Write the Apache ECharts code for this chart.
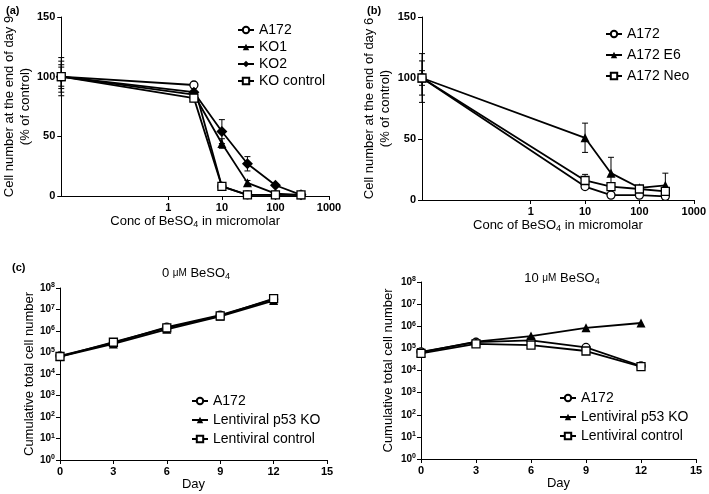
<!DOCTYPE html>
<html><head><meta charset="utf-8">
<script src="https://cdn.jsdelivr.net/npm/echarts@6/dist/echarts.min.js"></script>
<style>html,body{margin:0;padding:0;background:#fff}#c{width:709px;height:494px}</style>
</head><body><div id="c"></div>
<script>
// ---------- DATA ----------
// Panel (a): concentration (µM); untreated control drawn at the axis origin (0.01)
var concA = [0.01, 3, 10, 30, 100, 300];
var aA172 = [100, 93, 8, 1, 1, 1];
var aKO1 = [100, 85, 44, 11, 2, 1];
var aKO2 = [100, 87, 54, 27, 9, 1];
var aKOctrl = [100, 82, 8, 1, 1, 1];
var aA172Err = [16, 2, 1, 1, 0, 0];
var aKO1Err = [13, 3, 4, 2, 1, 0];
var aKO2Err = [10, 3, 10, 6, 1, 0];
var aKOctrlErr = [8, 3, 2, 1, 0, 0];

// Panel (b)
var concB = [0.01, 10, 30, 100, 300];
var bA172 = [100, 11, 4, 4, 3];
var bE6 = [100, 51, 22, 10, 12];
var bNeo = [100, 16, 11, 9, 7];
var bA172Err = [20, 2, 1, 1, 1];
var bE6Err = [14, 12, 13, 2, 10];
var bNeoErr = [6, 5, 3, 2, 3];

// Panel (c)
var days = [0, 3, 6, 9, 12];
var c0A172 = [7e4, 2.8e5, 1.5e6, 5.5e6, 3.0e7];
var c0KO = [6.5e4, 2.5e5, 1.2e6, 4.8e6, 2.6e7];
var c0Ctrl = [6.5e4, 3.0e5, 1.4e6, 5.0e6, 3.2e7];
var c10A172 = [7e4, 1.9e5, 2.3e5, 1.1e5, 1.6e4];
var c10KO = [6.6e4, 2.0e5, 3.6e5, 8.5e5, 1.4e6];
var c10Ctrl = [6.0e4, 1.6e5, 1.4e5, 7.6e4, 1.5e4];

var logTicksX = [1, 10, 100, 1000];

// ---------- HELPERS ----------
function zip(xs, ys) { return xs.map(function (x, i) { return [x, ys[i]]; }); }
function zip3(xs, ys, es) { return xs.map(function (x, i) { return [x, ys[i], es[i]]; }); }

var FONT = 'Liberation Sans, Arial, sans-serif';
var styles = {
  circle: { symbol: 'circle', symbolSize: 8, itemStyle: { color: '#fff', borderColor: '#000', borderWidth: 1.3 } },
  triangle: { symbol: 'triangle', symbolSize: 9, itemStyle: { color: '#000', borderColor: '#000', borderWidth: 0 } },
  diamond: { symbol: 'diamond', symbolSize: 11, itemStyle: { color: '#000', borderColor: '#000', borderWidth: 0 } },
  square: { symbol: 'rect', symbolSize: 8, itemStyle: { color: '#fff', borderColor: '#000', borderWidth: 1.3 } }
};

function lineSeries(name, data, sty, idx) {
  return {
    type: 'line', name: name, data: data, xAxisIndex: idx, yAxisIndex: idx,
    symbol: sty.symbol, symbolSize: sty.symbolSize, itemStyle: sty.itemStyle,
    lineStyle: { color: '#000', width: 1.8 }, showAllSymbol: true, animation: false, z: 3
  };
}

function errRender(params, api) {
  var x = api.value(0), y = api.value(1), e = api.value(2);
  var t = api.coord([x, y + e]);
  var b = api.coord([x, Math.max(0, y - e)]);
  var w = 3;
  var st = { stroke: '#000', lineWidth: 1 };
  return {
    type: 'group', children: [
      { type: 'line', shape: { x1: t[0], y1: t[1], x2: b[0], y2: b[1] }, style: st },
      { type: 'line', shape: { x1: t[0] - w, y1: t[1], x2: t[0] + w, y2: t[1] }, style: st },
      { type: 'line', shape: { x1: b[0] - w, y1: b[1], x2: b[0] + w, y2: b[1] }, style: st }
    ]
  };
}
function errSeries(data, idx) {
  return { type: 'custom', name: 'err', renderItem: errRender, data: data, xAxisIndex: idx, yAxisIndex: idx,
    encode: { x: 0, y: 1 }, animation: false, z: 2, silent: true };
}

var axisLineStyle = { show: true, lineStyle: { color: '#000', width: 1 } };
var tickStyle = { show: true, length: 4, lineStyle: { color: '#000', width: 1 } };
var labelStyle = { color: '#000', fontFamily: FONT, fontSize: 11, fontWeight: 'bold' };
var nameStyle = { color: '#000', fontFamily: FONT, fontSize: 13,
  rich: { sub: { fontSize: 9, fontFamily: FONT, color: '#000', padding: [7, 0, 0, 0] } } };

function logXAxis(idx) {
  return {
    type: 'log', logBase: 10, min: 0.01, max: 1000, gridIndex: idx,
    axisLine: axisLineStyle,
    axisTick: Object.assign({ customValues: logTicksX }, tickStyle),
    axisLabel: Object.assign({ customValues: logTicksX, margin: 6, formatter: function (v) { return v >= 1 ? String(Math.round(v)) : ''; } }, labelStyle),
    splitLine: { show: false }, minorTick: { show: false },
    name: 'Conc of BeSO{sub|4} in micromolar', nameLocation: 'middle', nameGap: 17, nameTextStyle: nameStyle
  };
}
function linYAxis(idx, name, gap) {
  return {
    type: 'value', min: 0, max: 150, interval: 50, gridIndex: idx,
    axisLine: axisLineStyle, axisTick: tickStyle,
    axisLabel: Object.assign({ margin: 6 }, labelStyle), splitLine: { show: false },
    name: name, nameLocation: 'middle', nameGap: gap, nameTextStyle: Object.assign({ lineHeight: 16 }, nameStyle)
  };
}
function dayXAxis(idx) {
  return {
    type: 'value', min: 0, max: 15, interval: 3, gridIndex: idx,
    axisLine: axisLineStyle, axisTick: tickStyle,
    axisLabel: Object.assign({ margin: 6 }, labelStyle), splitLine: { show: false },
    name: 'Day', nameLocation: 'middle', nameGap: 18, nameTextStyle: nameStyle
  };
}
function cellYAxis(idx, gap) {
  return {
    type: 'log', logBase: 10, min: 1, max: 1e8, gridIndex: idx,
    axisLine: axisLineStyle, axisTick: tickStyle,
    axisLabel: { margin: 5, color: '#000', fontFamily: FONT, fontSize: 10, fontWeight: 'bold',
      formatter: function (v) { return '10{sup|' + Math.round(Math.log10(v)) + '}'; },
      rich: { sup: { fontSize: 7, fontWeight: 'bold', fontFamily: FONT, color: '#000', padding: [0, 0, 5, 0] } } },
    splitLine: { show: false }, minorTick: { show: false },
    name: 'Cumulative total cell number', nameLocation: 'middle', nameGap: gap, nameTextStyle: nameStyle
  };
}
function legend(names, left, top, gap) {
  return {
    data: names, orient: 'vertical', left: left, top: top, itemGap: gap, itemWidth: 16, itemHeight: 8,
    selectedMode: false, textStyle: { color: '#000', fontFamily: FONT, fontSize: 14 }, padding: 0
  };
}

var titleBase = { fontFamily: FONT, fontSize: 13, fontWeight: 'normal', color: '#000',
  rich: { sm: { fontSize: 10, fontFamily: FONT, color: '#000' }, sub: { fontSize: 9, fontFamily: FONT, color: '#000', padding: [7, 0, 0, 0] } } };
var panelLabel = { fontFamily: FONT, fontSize: 11, fontWeight: 'bold', color: '#000' };

var option = {
  backgroundColor: '#fff',
  animation: false,
  grid: [
    { left: 60, top: 17, width: 269, height: 179 },
    { left: 422, top: 17, width: 275, height: 183 },
    { left: 60, top: 288, width: 267, height: 172 },
    { left: 421, top: 282, width: 275, height: 177 }
  ],
  xAxis: [logXAxis(0), logXAxis(1), dayXAxis(2), dayXAxis(3)],
  yAxis: [
    linYAxis(0, 'Cell number at the end of day 9\n(% of control)', 26),
    linYAxis(1, 'Cell number at the end of day 6\n(% of control)', 28),
    cellYAxis(2, 23), cellYAxis(3, 26)
  ],
  legend: [
    legend(['A172', 'KO1', 'KO2', 'KO control'], 237, 23, 3),
    legend(['A172', 'A172 E6', 'A172 Neo'], 605, 27, 7),
    legend(['A172', 'Lentiviral p53 KO', 'Lentiviral control'], 191, 394, 5),
    legend(['A172', 'Lentiviral p53 KO', 'Lentiviral control'], 559, 391, 5)
  ],
  title: [
    { text: '(a)', left: 1, top: 0, textStyle: panelLabel },
    { text: '(b)', left: 362, top: 0, textStyle: panelLabel },
    { text: '(c)', left: 7, top: 257, textStyle: panelLabel },
    { text: '0 {sm|μM} BeSO{sub|4}', left: 191, top: 260, textAlign: 'center', textStyle: titleBase },
    { text: '10 {sm|μM} BeSO{sub|4}', left: 557, top: 265, textAlign: 'center', textStyle: titleBase }
  ],
  series: [
    errSeries(zip3(concA, aA172, aA172Err), 0),
    errSeries(zip3(concA, aKO1, aKO1Err), 0),
    errSeries(zip3(concA, aKO2, aKO2Err), 0),
    errSeries(zip3(concA, aKOctrl, aKOctrlErr), 0),
    lineSeries('A172', zip(concA, aA172), styles.circle, 0),
    lineSeries('KO1', zip(concA, aKO1), styles.triangle, 0),
    lineSeries('KO2', zip(concA, aKO2), styles.diamond, 0),
    lineSeries('KO control', zip(concA, aKOctrl), styles.square, 0),

    errSeries(zip3(concB, bA172, bA172Err), 1),
    errSeries(zip3(concB, bE6, bE6Err), 1),
    errSeries(zip3(concB, bNeo, bNeoErr), 1),
    lineSeries('A172', zip(concB, bA172), styles.circle, 1),
    lineSeries('A172 E6', zip(concB, bE6), styles.triangle, 1),
    lineSeries('A172 Neo', zip(concB, bNeo), styles.square, 1),

    lineSeries('A172', zip(days, c0A172), styles.circle, 2),
    lineSeries('Lentiviral p53 KO', zip(days, c0KO), styles.triangle, 2),
    lineSeries('Lentiviral control', zip(days, c0Ctrl), styles.square, 2),

    lineSeries('A172', zip(days, c10A172), styles.circle, 3),
    lineSeries('Lentiviral p53 KO', zip(days, c10KO), styles.triangle, 3),
    lineSeries('Lentiviral control', zip(days, c10Ctrl), styles.square, 3)
  ]
};
var chart = echarts.init(document.getElementById('c'), null, { renderer: 'canvas' });
chart.setOption(option);
</script></body></html>
